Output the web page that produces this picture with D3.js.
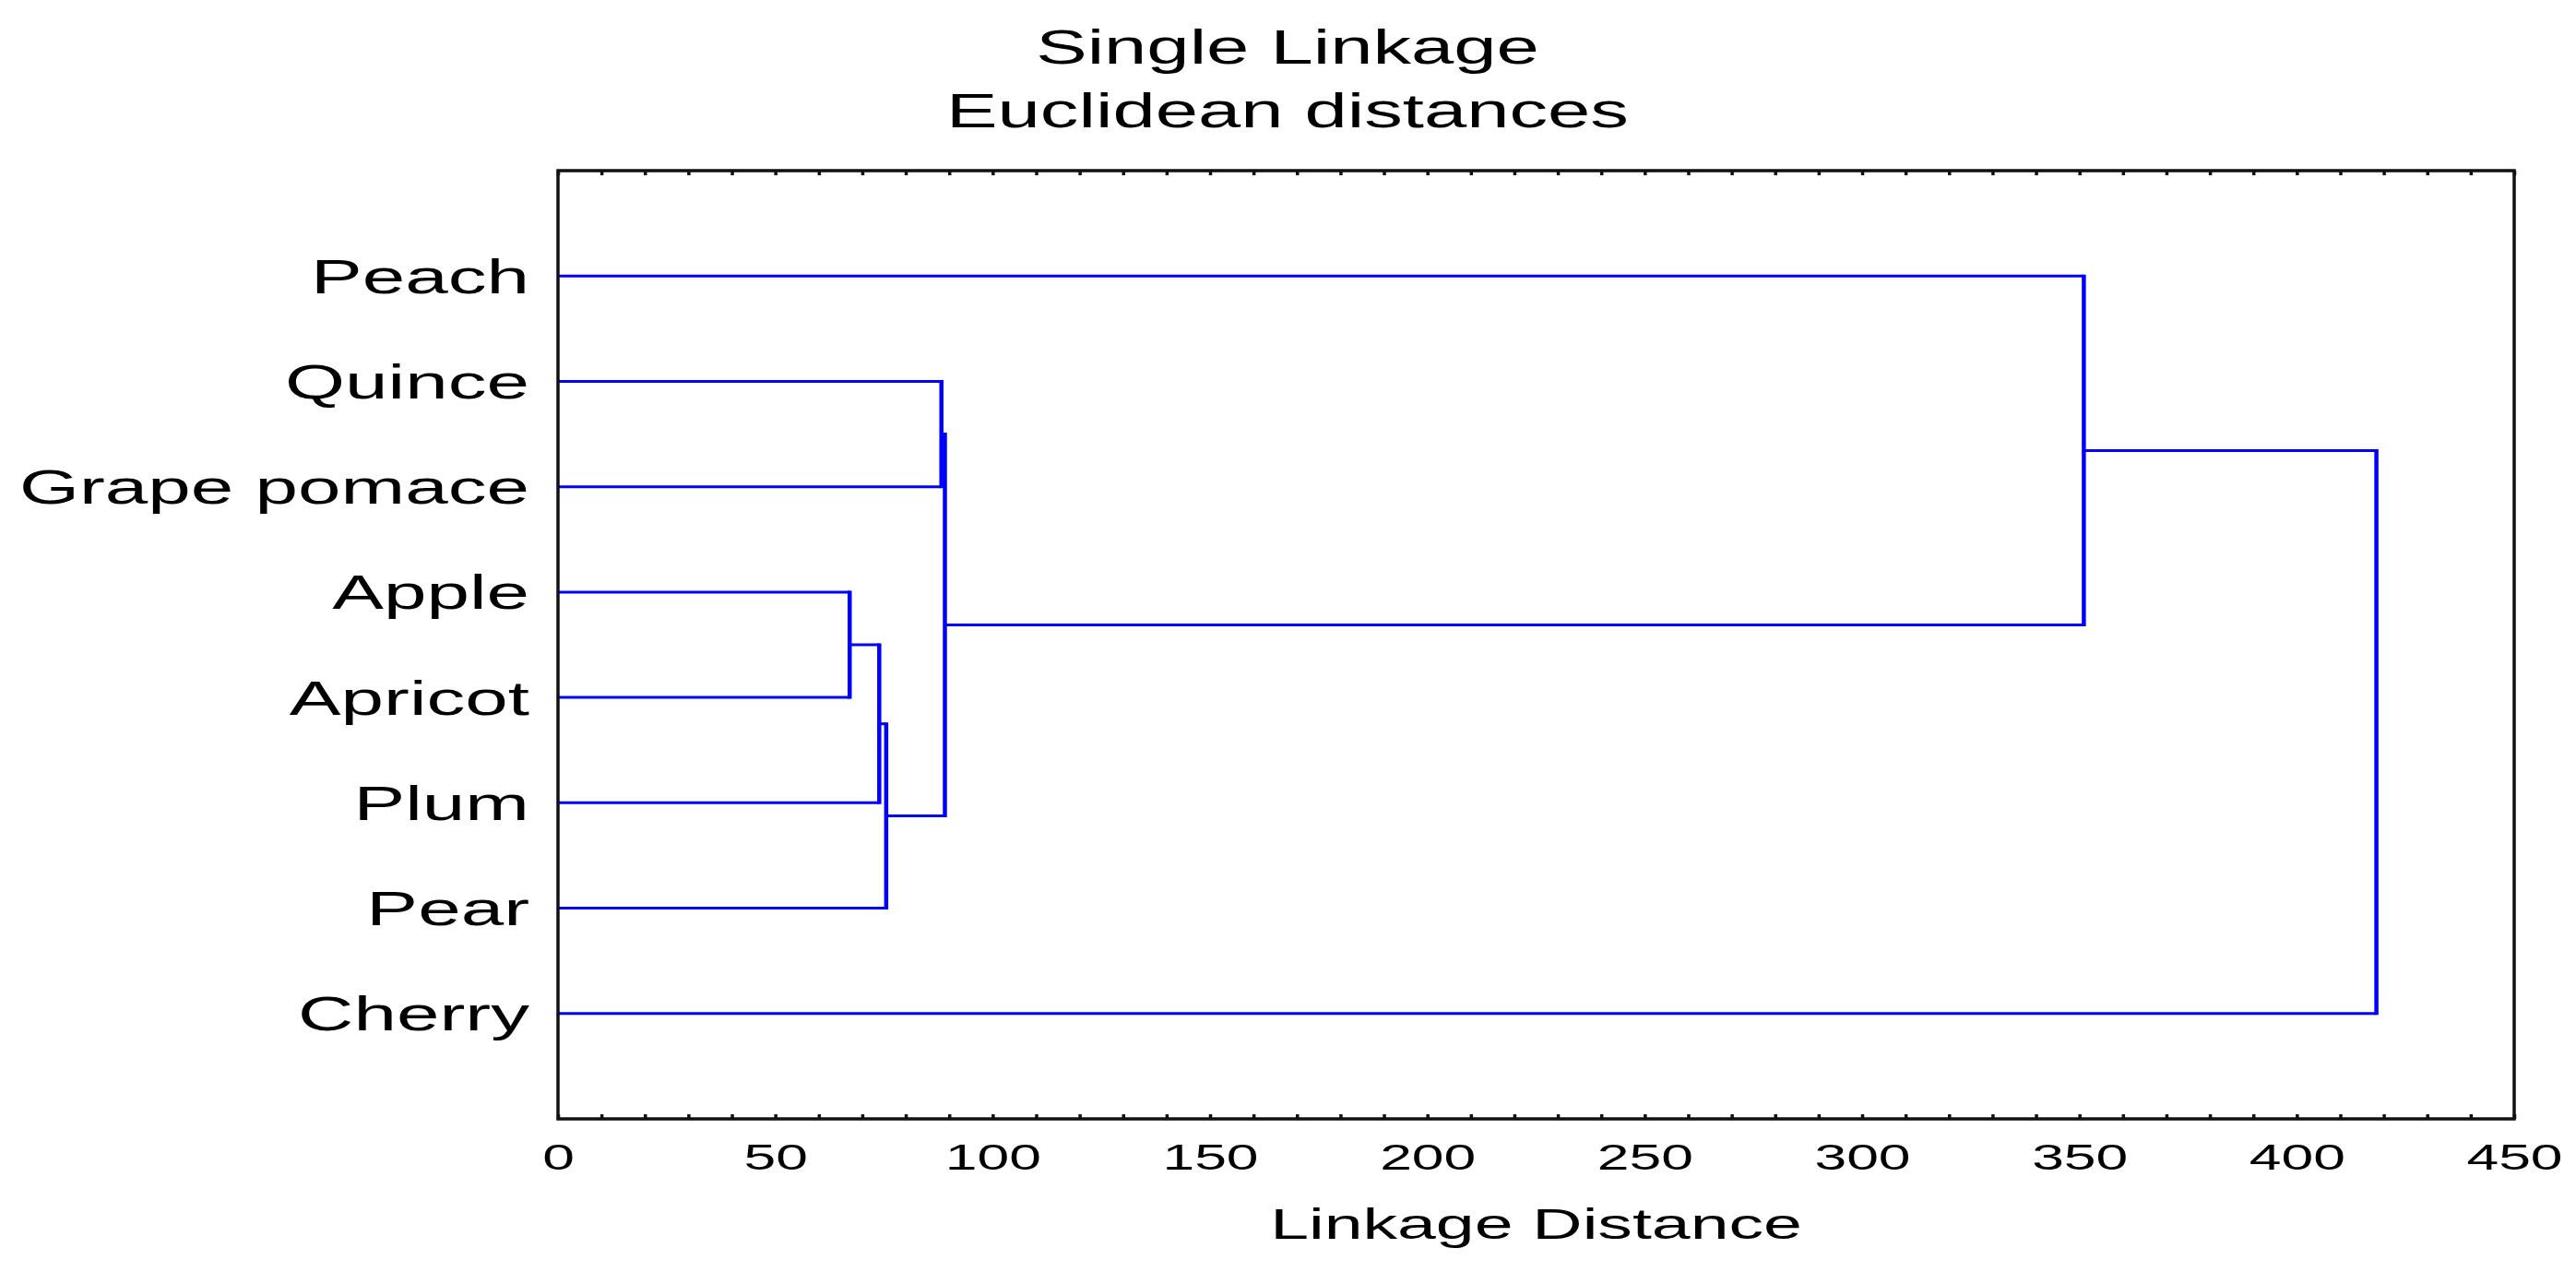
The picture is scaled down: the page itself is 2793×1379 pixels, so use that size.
<!DOCTYPE html>
<html>
<head>
<meta charset="utf-8">
<script src="https://cdn.jsdelivr.net/npm/d3@7"></script>
<style>
    body { margin: 0; background: #fff; }
    text { font-family: "Liberation Sans", Arial, sans-serif; fill: #000; }
</style>
</head>
<body>
<div id="chart"></div>
<script>
const width = 2793,
    height = 1379,
    plotLeft = 605,
    plotRight = 2726,
    plotTop = 185,
    plotBottom = 1213,
    stretch = 1.6; // text in the picture is drawn wider than normal

// leaves, top to bottom
const leaves = ["Peach", "Quince", "Grape pomace", "Apple", "Apricot", "Plum", "Pear", "Cherry"];
// merge steps: "mN" is the cluster made at step N
const mergeA = ["Apple", "m1", "m2", "Quince", "m4", "Peach", "m6"];
const mergeB = ["Apricot", "Plum", "Pear", "Grape pomace", "m3", "m5", "Cherry"];
const mergeDist = [67.1, 73.9, 75.5, 88.2, 89.0, 351.0, 418.3];
const xTicks = [0, 50, 100, 150, 200, 250, 300, 350, 400, 450];

const svg = d3
    .select("#chart")
    .append("svg")
    .attr("width", width)
    .attr("height", height);

svg.append("rect").attr("width", width).attr("height", height).attr("fill", "#fff");

const xScale = d3.scaleLinear().domain([0, 450]).range([plotLeft, plotRight]);
const yScale = d3.scalePoint().domain(leaves).range([plotTop, plotBottom]).padding(1);

// node positions
const nodes = {};
leaves.forEach((d) => (nodes[d] = { dist: 0, y: yScale(d) }));
mergeDist.forEach((dist, i) => {
    const a = nodes[mergeA[i]],
        b = nodes[mergeB[i]];
    nodes["m" + (i + 1)] = { dist: dist, y: (a.y + b.y) / 2, a: a, b: b };
});

const tree = svg.append("g").attr("id", "dendrogram").attr("stroke", "#0000ff").attr("fill", "none");
mergeDist.forEach((dist, i) => {
    const n = nodes["m" + (i + 1)];
    // horizontal arms
    [n.a, n.b].forEach((c) => {
        tree.append("line")
            .attr("x1", xScale(c.dist))
            .attr("x2", xScale(dist))
            .attr("y1", c.y)
            .attr("y2", c.y)
            .attr("stroke-width", 3);
    });
    // vertical join
    tree.append("line")
        .attr("x1", xScale(dist))
        .attr("x2", xScale(dist))
        .attr("y1", n.a.y - 1.5)
        .attr("y2", n.b.y + 1.5)
        .attr("stroke-width", 4.5);
});

// minor ticks, inside the frame
const minor = d3.range(0, 451, 10);
svg.append("g")
    .attr("transform", "translate(0," + plotBottom + ")")
    .call(d3.axisBottom(xScale).tickValues(minor).tickSize(-5).tickFormat(""))
    .call((g) => g.select(".domain").remove())
    .selectAll("line")
    .attr("stroke", "#111")
    .attr("stroke-width", 3.5);
svg.append("g")
    .attr("transform", "translate(0," + plotTop + ")")
    .call(d3.axisTop(xScale).tickValues(minor).tickSize(-5).tickFormat(""))
    .call((g) => g.select(".domain").remove())
    .selectAll("line")
    .attr("stroke", "#111")
    .attr("stroke-width", 3.5);

// x tick labels
svg.append("g")
    .attr("id", "x-axis")
    .attr("transform", "translate(0," + plotBottom + ")")
    .call(d3.axisBottom(xScale).tickValues(xTicks).tickSize(0))
    .call((g) => g.select(".domain").remove())
    .selectAll("text")
    .attr("y", 55)
    .attr("dy", 0)
    .attr("font-size", 39)
    .attr("transform", "scale(" + stretch + ",1)");

// leaf labels
svg.append("g")
    .attr("id", "y-axis")
    .attr("transform", "translate(" + plotLeft + ",0)")
    .call(d3.axisLeft(yScale).tickSize(0))
    .call((g) => g.select(".domain").remove())
    .selectAll("text")
    .attr("x", 0)
    .attr("dy", 18)
    .attr("font-size", 51)
    .attr("transform", "translate(-31,0) scale(1.64,1)");

// frame
svg.append("rect")
    .attr("x", plotLeft)
    .attr("y", plotTop)
    .attr("width", plotRight - plotLeft)
    .attr("height", plotBottom - plotTop)
    .attr("fill", "none")
    .attr("stroke", "#111")
    .attr("stroke-width", 3.5);

// titles
svg.append("text")
    .attr("text-anchor", "middle")
    .attr("font-size", 52)
    .attr("transform", "translate(1396,69) scale(" + stretch + ",1)")
    .text("Single Linkage");
svg.append("text")
    .attr("text-anchor", "middle")
    .attr("font-size", 52)
    .attr("transform", "translate(1396,138) scale(" + stretch + ",1)")
    .text("Euclidean distances");
svg.append("text")
    .attr("text-anchor", "middle")
    .attr("font-size", 47)
    .attr("transform", "translate(" + (plotLeft + plotRight) / 2 + ",1343) scale(" + stretch + ",1)")
    .text("Linkage Distance");
</script>
</body>
</html>
